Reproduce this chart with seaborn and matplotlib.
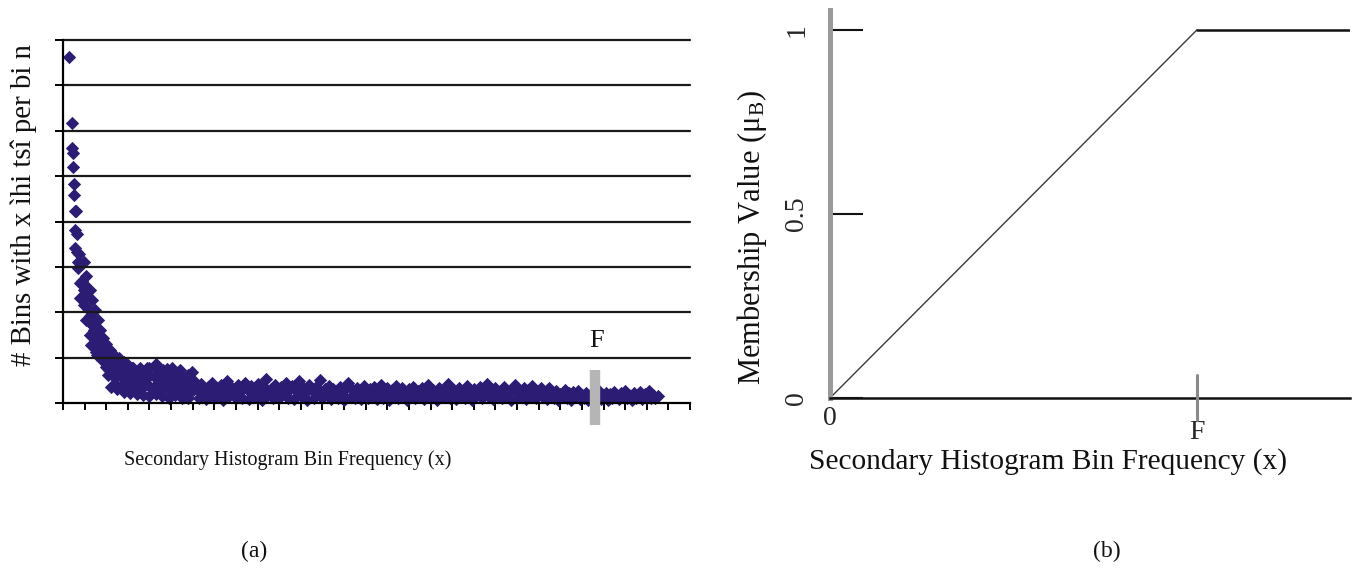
import numpy as np
import pandas as pd
import matplotlib
matplotlib.use("Agg")
import matplotlib.pyplot as plt
import matplotlib.transforms as mtransforms
import seaborn as sns

# ---- panel (a): secondary histogram, x in bin-frequency units (10 per tick) ----
head_x = [3, 4, 4, 4.5, 4.5, 5, 5, 5.5, 6, 5.5, 6.5, 5.5, 6.5, 7.5, 7, 7,
          9, 8, 9.5, 9.5, 8, 10.5, 9.5, 11.5, 12.5, 10.5, 13.5, 14.5, 12.5,
          13, 15.5, 17, 15.5, 19, 18, 21, 23, 25.5, 21.5,
          9.7, 11.6, 10.6, 13.4, 12.5, 14.8, 16.2, 13.9, 17.1, 18.5, 19.9,
          15.3, 21.7, 23.6, 25.9, 28.2, 30, 20.4, 24, 32.4, 35.6, 38.9,
          42.5, 46.3, 50.4, 54, 59.7]
head_y = [7.62, 6.17, 5.62, 5.51, 5.20, 4.82, 4.58, 4.23, 4.23, 3.81, 3.72,
          3.41, 3.33, 3.28, 3.10, 2.97, 2.69, 2.64, 2.62, 2.49, 2.31, 2.36,
          2.16, 2.07, 1.92, 1.83, 1.72, 1.61, 1.50, 1.28, 1.39, 1.21, 1.06,
          1.12, 0.95, 1.01, 0.95, 0.90, 0.73,
          3.10, 2.49, 2.80, 2.27, 2.50, 2.05, 1.83, 1.50, 1.60, 1.43, 1.30,
          1.12, 1.17, 1.06, 0.99, 0.90, 0.84, 0.84, 0.77, 0.77, 0.77, 0.77,
          0.82, 0.73, 0.77, 0.62, 0.68]

band_x = [20, 21, 22, 23, 24, 25, 26, 27, 28, 29, 30, 31, 32, 33, 34, 35, 36,
          37, 38, 39, 40, 41, 42, 43, 44, 45, 46, 47, 48, 49, 50, 51, 52, 53,
          54, 55, 56, 57, 58, 59, 60,
          22, 25, 28, 31, 34, 37, 40, 43, 46, 49, 52, 55, 58,
          24, 27, 30, 33, 36, 39, 42, 45, 48, 51, 54, 57, 60]
band_y = [0.80, 0.62, 0.85, 0.70, 0.55, 0.92, 0.75, 0.60, 0.45, 0.82, 0.68,
          0.50, 0.78, 0.40, 0.62, 0.72, 0.48, 0.35, 0.66, 0.55, 0.78, 0.30,
          0.60, 0.85, 0.50, 0.70, 0.40, 0.62, 0.75, 0.28, 0.55, 0.65, 0.45,
          0.58, 0.72, 0.35, 0.52, 0.40, 0.62, 0.30, 0.50,
          0.35, 0.30, 0.25, 0.22, 0.20, 0.18, 0.15, 0.20, 0.15, 0.12, 0.18,
          0.12, 0.10,
          0.42, 0.38, 0.35, 0.55, 0.30, 0.42, 0.35, 0.28, 0.45, 0.32, 0.25,
          0.22, 0.28]

tail_x = np.arange(62, 276)
tail_y = [
    0.30, 0.12, 0.42, 0.20, 0.08, 0.36, 0.25, 0.45, 0.10, 0.32, 0.18, 0.40, 0.06, 0.28, 0.48, 0.15, 0.34, 0.22, 0.10, 0.40,
    0.26, 0.12, 0.44, 0.30, 0.08, 0.38, 0.20, 0.14, 0.42, 0.28, 0.06, 0.35, 0.52, 0.18, 0.30, 0.10, 0.40, 0.24, 0.12, 0.36,
    0.20, 0.44, 0.10, 0.30, 0.38, 0.08, 0.26, 0.48, 0.15, 0.34, 0.22, 0.06, 0.40, 0.28, 0.12, 0.36, 0.20, 0.50, 0.10, 0.30,
    0.18, 0.38, 0.08, 0.30, 0.24, 0.12, 0.36, 0.20, 0.06, 0.32, 0.44, 0.14, 0.28, 0.10, 0.34, 0.22, 0.08, 0.38, 0.26, 0.12,
    0.30, 0.16, 0.36, 0.08, 0.26, 0.40, 0.12, 0.22, 0.34, 0.06, 0.28, 0.18, 0.38, 0.10, 0.24, 0.32, 0.14, 0.06, 0.30, 0.20,
    0.36, 0.10, 0.26, 0.16, 0.32, 0.08, 0.22, 0.40, 0.12, 0.28, 0.18, 0.06, 0.34, 0.24, 0.14, 0.30, 0.42, 0.10, 0.20, 0.28,
    0.08, 0.34, 0.18, 0.26, 0.12, 0.38, 0.22, 0.06, 0.30, 0.16, 0.24, 0.36, 0.10, 0.20, 0.42, 0.14, 0.28, 0.08, 0.32, 0.18,
    0.26, 0.10, 0.36, 0.16, 0.22, 0.06, 0.30, 0.40, 0.12, 0.24, 0.18, 0.34, 0.08, 0.28, 0.14, 0.38, 0.20, 0.10, 0.26, 0.32,
    0.14, 0.22, 0.08, 0.34, 0.18, 0.10, 0.26, 0.06, 0.20, 0.14, 0.28, 0.10, 0.22, 0.06, 0.24, 0.16, 0.26, 0.08, 0.18, 0.12,
    0.22, 0.06, 0.16, 0.24, 0.10, 0.18, 0.26, 0.08, 0.14, 0.22, 0.06, 0.20, 0.12, 0.24, 0.16, 0.08, 0.22, 0.14, 0.26, 0.10,
    0.18, 0.06, 0.22, 0.12, 0.16, 0.24, 0.08, 0.20, 0.14, 0.26, 0.10, 0.18, 0.12, 0.16,
]

f_marker_x = 246
f_bar_y = [-0.48, 0.73]
gridline_levels = list(range(9))
x_ticks_a = list(range(0, 291, 10))

# ---- panel (b): membership function ----
F = 1.0
memb_x = [0, F, 1.417]
memb_y = [0, 1, 1]
memb_yticks = [0, 0.5, 1]
memb_yticklabels = ["0", "0.5", "1"]

sns.set_theme(style="white")
plt.rcParams["font.family"] = ["Liberation Serif", "DejaVu Serif"]
plt.rcParams["mathtext.fontset"] = "stix"

fig = plt.figure(figsize=(13.6, 5.72), dpi=100)
W, H = 1360, 572

# ================= (a) =================
ax1 = fig.add_axes([63 / W, 1 - 403 / H, (690 - 63) / W, (403 - 40) / H])
df_a = pd.DataFrame({
    "freq": list(head_x) + list(band_x) + list(tail_x),
    "count": list(head_y) + list(band_y) + list(tail_y),
})
sns.scatterplot(data=df_a, x="freq", y="count", marker="D", s=46,
                color="#2c1c74", linewidth=0, ax=ax1)
ax1.collections[-1].set_clip_on(False)

ax1.set_xlim(0, 290)
ax1.set_ylim(0, 8)
ax1.set_yticks(gridline_levels)
ax1.set_xticks(x_ticks_a)
ax1.set_xticklabels([])
ax1.set_yticklabels([])
for lvl in gridline_levels[1:]:
    ax1.axhline(lvl, color="#1a1a1a", lw=1.6, clip_on=False, zorder=1)
ax1.tick_params(axis="y", direction="out", length=6, width=1.4, color="black", left=True)
ax1.tick_params(axis="x", direction="out", length=5, width=1.4, color="black", bottom=True)
for side in ["top", "right"]:
    ax1.spines[side].set_visible(False)
ax1.spines["left"].set_color("black")
ax1.spines["left"].set_linewidth(1.6)
ax1.spines["bottom"].set_color("black")
ax1.spines["bottom"].set_linewidth(1.6)
ax1.set_xlabel("")
ax1.set_ylabel("")

# grey marker for F
ax1.plot([f_marker_x, f_marker_x], f_bar_y, color="#b5b5b5", lw=7.5,
         solid_capstyle="butt", clip_on=False, zorder=5)
ax1.text(f_marker_x + 1, 1.37, "F", ha="center", va="center", fontsize=19, color="#111")

fig.text(24 / W, 1 - 205 / H, "# Bins with x ìhi tsî per bi n", rotation=90,
         ha="center", va="center", fontsize=20.8, color="#111")
fig.text(288 / W, 1 - 460 / H, "Secondary Histogram Bin Frequency (x)",
         ha="center", va="center", fontsize=14.5, color="#111")
fig.text(254 / W, 1 - 551 / H, "(a)", ha="center", va="center", fontsize=17, color="#111")

# ================= (b) =================
ax2 = fig.add_axes([830 / W, 1 - 398 / H, (1350 - 830) / W, (398 - 10) / H])
df_b = pd.DataFrame({"x": memb_x, "y": memb_y})
sns.lineplot(data=df_b.iloc[:2], x="x", y="y", color="#3a3a3a", lw=1.0, ax=ax2)
sns.lineplot(data=df_b.iloc[1:], x="x", y="y", color="#111111", lw=1.8, ax=ax2)
ax2.set_xlim(0, memb_x[-1])
ax2.set_ylim(0, 1.054)

for side in ["top", "right"]:
    ax2.spines[side].set_visible(False)
ax2.spines["left"].set_color("#9a9a9a")
ax2.spines["left"].set_linewidth(3.6)
ax2.spines["bottom"].set_color("#111111")
ax2.spines["bottom"].set_linewidth(1.8)

ax2.set_yticks(memb_yticks)
ax2.set_yticklabels(memb_yticklabels, rotation=90, va="center", fontsize=20)
ax2.tick_params(axis="y", direction="in", length=24, width=1.5, color="#111",
                pad=15, left=True)
ax2.set_xticks([0, F])
ax2.set_xticklabels(["0", "F"], fontsize=20)
ax2.tick_params(axis="x", length=0, pad=6, bottom=True)
lab_F = ax2.get_xticklabels()[1]
lab_F.set_transform(lab_F.get_transform() +
                    mtransforms.ScaledTranslation(0, -10 / 72, fig.dpi_scale_trans))
ax2.plot([F, F], [-0.06, 0.0625], color="#8a8a8a", lw=2.2, clip_on=False, zorder=5)
ax2.set_xlabel("")
ax2.set_ylabel("")

fig.text(752 / W, 1 - 237 / H, "Membership Value (μ$_\\mathregular{B}$)", rotation=90,
         ha="center", va="center", fontsize=22, color="#111")
fig.text(1048 / W, 1 - 462 / H, "Secondary Histogram Bin Frequency (x)",
         ha="center", va="center", fontsize=21.2, color="#111")
fig.text(1107 / W, 1 - 551 / H, "(b)", ha="center", va="center", fontsize=17, color="#111")

fig.savefig("out.png", dpi=100, facecolor="white")
